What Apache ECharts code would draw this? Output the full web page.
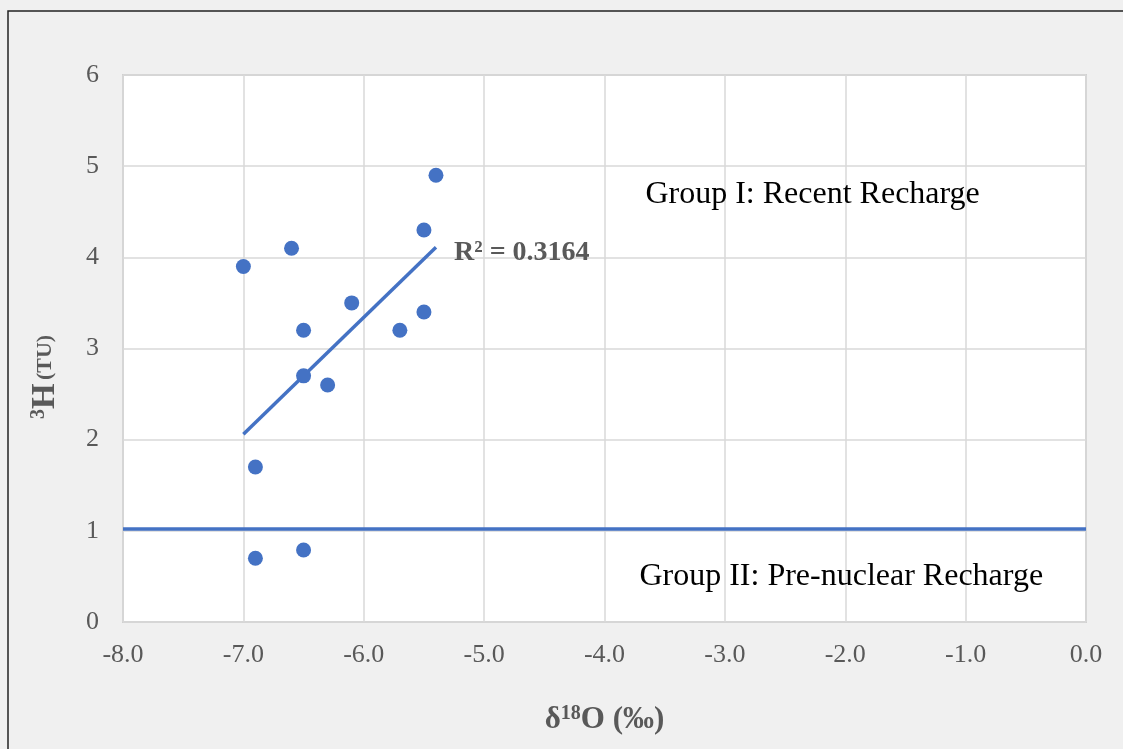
<!DOCTYPE html>
<html>
<head>
<meta charset="utf-8">
<script src="https://cdn.jsdelivr.net/npm/echarts@6/dist/echarts.min.js"></script>
<style>
  html, body { margin: 0; padding: 0; background: #f0f0f0; }
  #chart { width: 1123px; height: 749px; }
</style>
</head>
<body>
<div id="chart"></div>
<script>
// d18O (permil) and tritium (TU) of the samples
var d18O = [-7.0, -6.6, -6.5, -6.5, -6.9, -6.9, -6.5, -6.3, -6.1, -5.7, -5.5, -5.5, -5.4];
var tritium = [3.9, 4.1, 3.2, 2.7, 1.7, 0.7, 0.79, 2.6, 3.5, 3.2, 3.4, 4.3, 4.9];

// trendline ends
var trendX = [-7.0, -5.4];
var trendY = [2.06, 4.11];

// boundary between the two groups
var limitX = [-8, 0];
var limitY = [1.02, 1.02];

var xTicks = [-8, -7, -6, -5, -4, -3, -2, -1, 0];

var points = d18O.map(function (x, i) {
  return [x, tritium[i]];
});
var trend = trendX.map(function (x, i) {
  return [x, trendY[i]];
});
var limit = limitX.map(function (x, i) {
  return [x, limitY[i]];
});

var chartDom = document.getElementById("chart");
var myChart = echarts.init(chartDom);
var option;

var serif = "'Liberation Serif', 'Times New Roman', serif";

option = {
  backgroundColor: "#f0f0f0",
  animation: false,
  grid: {
    left: 123,
    right: 37,
    top: 75,
    bottom: 127,
    outerBoundsMode: "none",
    containLabel: false,
    show: true,
    backgroundColor: "#ffffff",
    borderColor: "#d0d0d0",
    borderWidth: 2,
  },
  xAxis: {
    type: "value",
    min: xTicks[0],
    max: xTicks[xTicks.length - 1],
    interval: 1,
    axisLine: { show: false },
    axisTick: { show: false },
    splitLine: { lineStyle: { color: "#d9d9d9", width: 1.5 } },
    axisLabel: {
      margin: 20,
      color: "#595959",
      fontFamily: serif,
      fontSize: 26,
      formatter: function (v) {
        return v.toFixed(1);
      },
    },
    name: "{d|δ}{sup|18}{d|O (‰)}",
    nameLocation: "middle",
    nameGap: 82,
    nameTextStyle: {
      rich: {
        d: { fontFamily: serif, fontSize: 31, fontWeight: "bold", color: "#595959" },
        sup: {
          fontFamily: serif,
          fontSize: 20,
          fontWeight: "bold",
          color: "#595959",
          padding: [0, 0, 12, 0],
        },
      },
    },
  },
  yAxis: {
    type: "value",
    min: 0,
    max: 6,
    interval: 1,
    axisLine: { show: false },
    axisTick: { show: false },
    splitLine: { lineStyle: { color: "#d9d9d9", width: 1.5 } },
    axisLabel: {
      margin: 24,
      color: "#595959",
      fontFamily: serif,
      fontSize: 26,
    },
  },
  series: [
    {
      type: "line",
      data: limit,
      symbol: "none",
      lineStyle: { color: "#4472c4", width: 3.5 },
      z: 2,
    },
    {
      type: "line",
      data: trend,
      symbol: "none",
      lineStyle: { color: "#4472c4", width: 3.5 },
      z: 2,
    },
    {
      type: "scatter",
      data: points,
      symbolSize: 15,
      itemStyle: { color: "#4472c4", opacity: 1 },
      z: 3,
    },
  ],
};

option && myChart.setOption(option);

// text notes placed in data coordinates
var notes = [
  { at: [-3.66, 4.69], text: "Group I: Recent Recharge", size: 32, weight: "normal", color: "#000000" },
  { at: [-3.71, 0.5], text: "Group II: Pre-nuclear Recharge", size: 32, weight: "normal", color: "#000000" },
  { at: [-5.25, 4.05], text: "R² = 0.3164", size: 28, weight: "bold", color: "#595959" },
];

var elements = notes.map(function (n) {
  var p = myChart.convertToPixel({ gridIndex: 0 }, n.at);
  return {
    type: "text",
    x: p[0],
    y: p[1],
    z: 10,
    style: {
      text: n.text,
      fill: n.color,
      font: n.weight + " " + n.size + "px " + serif,
      textAlign: "left",
      textVerticalAlign: "middle",
    },
  };
});

// y axis title, a little below the middle of the axis as in the source
elements.push({
  type: "text",
  x: 45,
  y: 377,
  rotation: Math.PI / 2,
  z: 10,
  style: {
    text: "{sup|3}{h|H} {s|(TU)}",
    align: "center",
    verticalAlign: "middle",
    rich: {
      h: { fontFamily: serif, fontSize: 33, fontWeight: "bold", fill: "#595959" },
      s: { fontFamily: serif, fontSize: 22, fontWeight: "bold", fill: "#595959" },
      sup: {
        fontFamily: serif,
        fontSize: 20,
        fontWeight: "bold",
        fill: "#595959",
        padding: [0, 0, 12, 0],
      },
    },
  },
});

// chart frame, cut by the picture edge on the right and bottom
elements.push({
  type: "rect",
  shape: { x: 8, y: 11, width: 1200, height: 800 },
  style: { fill: "none", stroke: "#222222", lineWidth: 1.5 },
  silent: true,
  z: 20,
});

myChart.setOption({ graphic: elements });
</script>
</body>
</html>
